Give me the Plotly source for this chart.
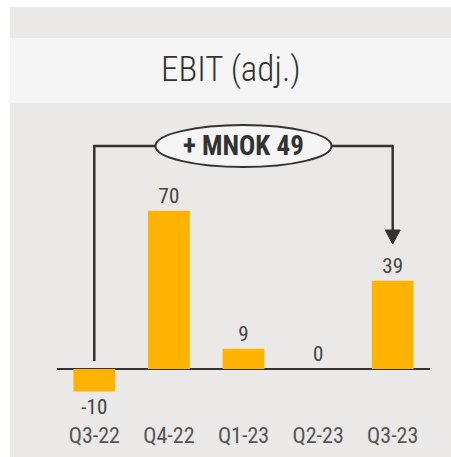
import plotly.graph_objects as go

# Quarterly EBIT (adj.), MNOK
quarters = ["Q3-22", "Q4-22", "Q1-23", "Q2-23", "Q3-23"]
ebit = [-10, 70, 9, 0, 39]
change_label = "+ MNOK 49"
title_text = "EBIT (adj.)"

W, H = 451, 457
PLOT_L, PLOT_R = 57, 430          # pixel extent of the plot area
PLOT_T, PLOT_B = 110, 420
ZERO_PX = 369                     # pixel row of the zero line
PX_PER_UNIT = 2.26

y_top = (ZERO_PX - PLOT_T) / PX_PER_UNIT
y_bot = (ZERO_PX - PLOT_B) / PX_PER_UNIT


def px_x(p):
    return (p - PLOT_L) / (PLOT_R - PLOT_L)


def px_y(p):
    return (PLOT_B - p) / (PLOT_B - PLOT_T)


FONT = "Roboto Condensed, Liberation Sans Narrow, DejaVu Sans Condensed, Arial Narrow, sans-serif"
DARK = "#333333"
BAR = "#FFB300"

fig = go.Figure(
    go.Bar(
        x=quarters,
        y=ebit,
        marker=dict(color=BAR, line=dict(width=0)),
        width=0.56,
        text=[str(v) for v in ebit],
        textposition="outside",
        textfont=dict(family=FONT, size=21, color="#444444"),
        cliponaxis=False,
    )
)

# bracket between first and last quarter
bracket_y = (ZERO_PX - 146) / PX_PER_UNIT
start_y = (ZERO_PX - 361) / PX_PER_UNIT
arrow_base = (ZERO_PX - 230) / PX_PER_UNIT
arrow_tip = (ZERO_PX - 244) / PX_PER_UNIT
last = len(quarters) - 1
ell_x0, ell_x1 = 0.82, 3.18
ell_y0 = (ZERO_PX - 167) / PX_PER_UNIT
ell_y1 = (ZERO_PX - 125) / PX_PER_UNIT

shapes = [
    # outer grey panel
    dict(type="rect", xref="paper", yref="paper", layer="below",
         x0=px_x(10), x1=px_x(W + 5), y0=px_y(H + 5), y1=px_y(7),
         fillcolor="#EBE9E7", line=dict(width=0)),
    # title band
    dict(type="rect", xref="paper", yref="paper", layer="below",
         x0=px_x(10), x1=px_x(W + 5), y0=px_y(103), y1=px_y(38),
         fillcolor="#F5F5F5", line=dict(width=0)),
    dict(type="path", xref="x", yref="y",
         path=f"M 0,{start_y} L 0,{bracket_y} L {ell_x0},{bracket_y}",
         line=dict(color=DARK, width=2.5)),
    dict(type="path", xref="x", yref="y",
         path=f"M {ell_x1},{bracket_y} L {last},{bracket_y} L {last},{arrow_base}",
         line=dict(color=DARK, width=2.5)),
    dict(type="path", xref="x", yref="y",
         path=f"M {last - 0.1},{arrow_base} L {last + 0.1},{arrow_base} L {last},{arrow_tip} Z",
         fillcolor=DARK, line=dict(color=DARK, width=1)),
    dict(type="circle", xref="x", yref="y",
         x0=ell_x0, x1=ell_x1, y0=ell_y0, y1=ell_y1,
         fillcolor="#F5F5F5", line=dict(color=DARK, width=2)),
]

annotations = [
    dict(text=title_text, xref="paper", yref="paper", x=0.5 * (px_x(10) + px_x(W)),
         y=px_y(70), showarrow=False, xanchor="center", yanchor="middle",
         font=dict(family=FONT, size=35, color=DARK, weight=300)),
    dict(text=f"<b>{change_label}</b>", xref="x", yref="y", x=2, y=bracket_y,
         showarrow=False, xanchor="center", yanchor="middle",
         font=dict(family=FONT, size=27, color=DARK)),
]

fig.update_layout(
    width=W, height=H,
    margin=dict(l=PLOT_L, r=W - PLOT_R, t=PLOT_T, b=H - PLOT_B, autoexpand=False),
    paper_bgcolor="white",
    plot_bgcolor="rgba(0,0,0,0)",
    showlegend=False,
    shapes=shapes,
    annotations=annotations,
    xaxis=dict(range=[-0.5, 4.5], showgrid=False, showline=False, ticks="",
               tickfont=dict(family=FONT, size=22, color="#555555")),
    yaxis=dict(range=[y_bot, y_top], showgrid=False, showticklabels=False,
               zeroline=True, zerolinecolor=DARK, zerolinewidth=2),
)

fig.write_html("out.html")
